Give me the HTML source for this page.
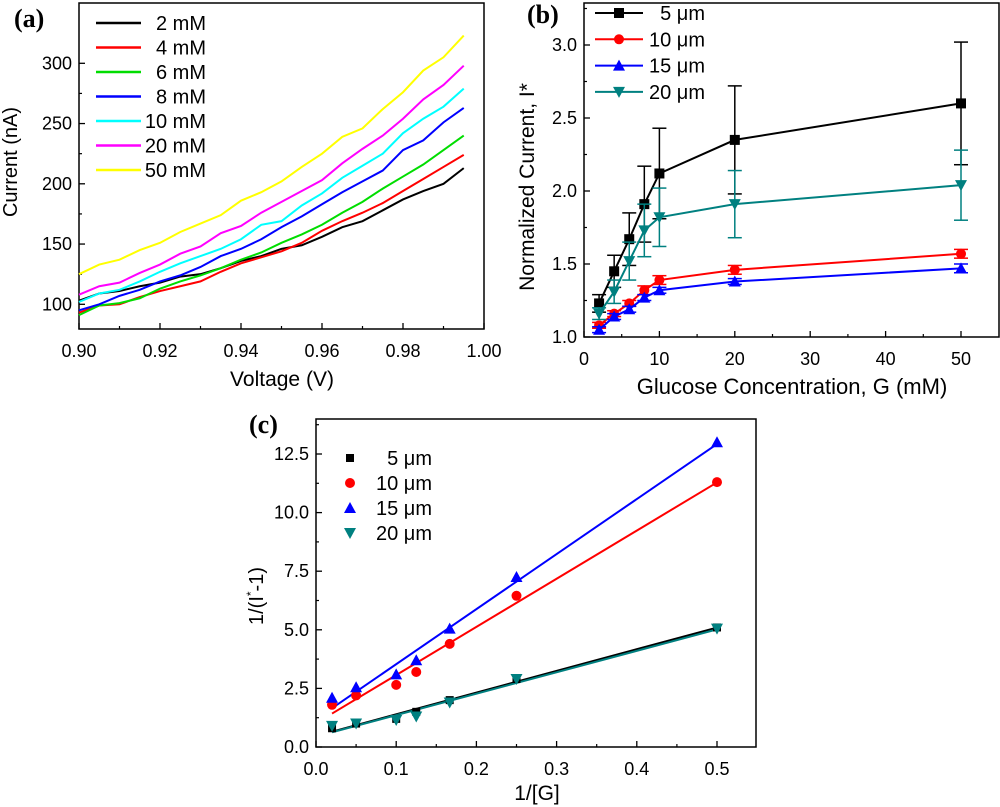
<!DOCTYPE html>
<html><head><meta charset="utf-8">
<style>
html,body{margin:0;padding:0;background:#fff;}
svg{display:block;font-family:"Liberation Sans",Arial,sans-serif;}
.lbl{font-family:"Liberation Serif",serif;font-weight:bold;font-size:26px;}
</style></head>
<body>
<svg id="fig" width="1000" height="807" viewBox="0 0 1000 807" xmlns="http://www.w3.org/2000/svg"></svg>
<script>
// ---- Panel (a) data ----
const aVoltage = [0.900,0.905,0.910,0.915,0.920,0.925,0.930,0.935,0.940,0.945,0.950,0.955,0.960,0.965,0.970,0.975,0.980,0.985,0.990,0.995];
const aNames = ["2 mM","4 mM","6 mM","8 mM","10 mM","20 mM","50 mM"];
const aColors = ["#000000","#ff0000","#00dd00","#0000ff","#00ffff","#ff00ff","#ffff00"];
const a2 = [103,109,111,115,118,123,125,130,136,140,146,149,156,164,169,178,187,194,200,213];
const a4 = [93,99,100,106,111,115,119,127,134,139,144,151,161,169,176,184,194,204,214,224];
const a6 = [91,99,101,105,113,119,124,130,137,143,151,158,166,176,185,196,206,216,228,240];
const a8 = [95,100,107,112,119,124,131,140,146,154,164,173,183,193,202,211,228,236,251,263];
const a10 = [102,109,112,119,127,134,140,146,154,166,169,182,192,205,215,225,242,254,264,279];
const a20 = [108,115,118,126,133,142,148,159,165,176,185,194,203,217,229,240,254,270,282,298];
const a50 = [125,133,137,145,151,160,167,174,186,193,202,214,225,239,246,262,276,294,305,323];
const aXTicks = ["0.90","0.92","0.94","0.96","0.98","1.00"];
const aYTicks = ["100","150","200","250","300"];

// ---- Panel (b) data ----
const bConc = [2,4,6,8,10,20,50];
const bNames = ["5 \u03bcm","10 \u03bcm","15 \u03bcm","20 \u03bcm"];
const bColors = ["#000000","#ff0000","#0000ff","#008080"];
const b5 = [1.23,1.45,1.67,1.91,2.12,2.35,2.60];
const b10 = [1.08,1.16,1.23,1.32,1.39,1.46,1.57];
const b15 = [1.05,1.14,1.19,1.27,1.32,1.38,1.47];
const b20 = [1.16,1.31,1.52,1.73,1.82,1.91,2.04];
const b5err = [0.06,0.11,0.18,0.26,0.31,0.37,0.42];
const b10err = [0.02,0.02,0.02,0.03,0.03,0.03,0.03];
const b15err = [0.02,0.02,0.02,0.02,0.02,0.02,0.03];
const b20err = [0.04,0.08,0.13,0.18,0.20,0.23,0.24];
const bXTicks = ["0","10","20","30","40","50"];
const bYTicks = ["1.0","1.5","2.0","2.5","3.0"];

// ---- Panel (c) data ----
const cInvG = [0.02,0.05,0.1,0.125,0.1667,0.25,0.5];
const c5 = [0.8,1.0,1.2,1.5,2.0,2.9,5.1];
const c10 = [1.8,2.2,2.65,3.2,4.4,6.45,11.3];
const c15 = [2.1,2.55,3.1,3.7,5.05,7.25,13.0];
const c20 = [0.9,1.0,1.15,1.3,1.9,2.9,5.05];
const cXTicks = ["0.0","0.1","0.2","0.3","0.4","0.5"];
const cYTicks = ["0.0","2.5","5.0","7.5","10.0","12.5"];

const NS="http://www.w3.org/2000/svg";
const svg=document.getElementById('fig');
function mk(tag,attrs,parent){const e=document.createElementNS(NS,tag);for(const k in attrs)e.setAttribute(k,attrs[k]);(parent||svg).appendChild(e);return e;}
function txt(s,attrs,parent){const e=mk('text',attrs,parent);e.textContent=s;return e;}
function lin(d0,d1,r0,r1){return v=>r0+(v-d0)*(r1-r0)/(d1-d0);}

function frame(g,x0,y0,x1,y1,xs,ys,xt,yt,xminor,yminor,fs){
  const box=mk('rect',{x:x0,y:y0,width:x1-x0,height:y1-y0,fill:'none',stroke:'#000','stroke-width':1.5},g);
  
  xt.forEach(t=>{const px=xs(parseFloat(t));
    mk('line',{x1:px,x2:px,y1:y1,y2:y1-6,stroke:'#000','stroke-width':1.3},g);
    const e=txt(t,{x:px,y:y1+28,'font-size':fs,'text-anchor':'middle'},g);
    });
  xminor.forEach(v=>{const px=xs(v);mk('line',{x1:px,x2:px,y1:y1,y2:y1-3,stroke:'#000','stroke-width':1.2},g);});
  yt.forEach(t=>{const py=ys(parseFloat(t));
    mk('line',{x1:x0,x2:x0+6,y1:py,y2:py,stroke:'#000','stroke-width':1.3},g);
    const e=txt(t,{x:x0-7,y:py+6,'font-size':fs,'text-anchor':'end'},g);
    });
  yminor.forEach(v=>{const py=ys(v);mk('line',{x1:x0,x2:x0+3,y1:py,y2:py,stroke:'#000','stroke-width':1.2},g);});
}
function marker(g,type,x,y,c,s){
  let e;
  if(type==='sq')e=mk('rect',{x:x-s,y:y-s,width:2*s,height:2*s,fill:c},g);
  else if(type==='ci')e=mk('circle',{cx:x,cy:y,r:s,fill:c},g);
  else if(type==='up')e=mk('polygon',{points:`${x},${y-s*1.2} ${x-s*1.2},${y+s} ${x+s*1.2},${y+s}`,fill:c},g);
  else e=mk('polygon',{points:`${x},${y+s*1.2} ${x-s*1.2},${y-s} ${x+s*1.2},${y-s}`,fill:c},g);
  return e;
}

// ===== Panel A =====
(function(){
  const g=mk('g',{});
  const x0=79,x1=484,y0=3,y1=329;
  const xs=lin(0.9,1.0,x0,x1), ys=lin(100,300,304.3,63.3);
  const minX=[];for(let v=0.91;v<1;v+=0.02)minX.push(v);
  frame(g,x0,y0,x1,y1,xs,ys,aXTicks,aYTicks,minX,[125,175,225,275],18);
  const series=[a2,a4,a6,a8,a10,a20,a50];
  series.forEach((s,i)=>{
    const p=mk('polyline',{points:s.map((v,j)=>xs(aVoltage[j])+','+ys(v)).join(' '),fill:'none',stroke:aColors[i],'stroke-width':2},g);
    
    const ly=23+i*24.5;
    const l=mk('line',{x1:96,x2:141,y1:ly,y2:ly,stroke:aColors[i],'stroke-width':2.5},g);
    
    const t=txt(aNames[i],{x:206,y:ly+7,'font-size':20,'text-anchor':'end'},g);
    
  });
  const yt=txt('Current (nA)',{x:0,y:0,'font-size':20,'text-anchor':'middle',transform:'translate(17,162) rotate(-90)'},g);
  
  const xt=txt('Voltage (V)',{x:282,y:386,'font-size':21,'text-anchor':'middle'},g);
  
  const pl=txt('(a)',{x:14,y:27,'class':'lbl'},g);
  
})();

// ===== Panel B =====
(function(){
  const g=mk('g',{});
  const x0=584,x1=999,y0=3,y1=337;
  const xs=lin(0,50,584,961), ys=lin(1,3,337,45);
  frame(g,x0,y0,x1,y1,xs,ys,bXTicks,bYTicks,[5,15,25,35,45],[1.25,1.75,2.25,2.75,3.25],18);
  const series=[b5,b10,b15,b20], errs=[b5err,b10err,b15err,b20err], types=['sq','ci','up','dn'];
  series.forEach((s,i)=>{
    const c=bColors[i];
    s.forEach((v,j)=>{const px=xs(bConc[j]),e=errs[i][j];
      const lo=ys(v-e),hi=ys(v+e);
      mk('line',{x1:px,x2:px,y1:lo,y2:hi,stroke:c,'stroke-width':1.5},g);
      mk('line',{x1:px-7,x2:px+7,y1:lo,y2:lo,stroke:c,'stroke-width':1.5},g);
      mk('line',{x1:px-7,x2:px+7,y1:hi,y2:hi,stroke:c,'stroke-width':1.5},g);});
    const p=mk('polyline',{points:s.map((v,j)=>xs(bConc[j])+','+ys(v)).join(' '),fill:'none',stroke:c,'stroke-width':2},g);
    
    s.forEach((v,j)=>{const m=marker(g,types[i],xs(bConc[j]),ys(v),c,5);
      });
    const ly=13+i*26.3;
    mk('line',{x1:595,x2:643,y1:ly,y2:ly,stroke:c,'stroke-width':2},g);
    marker(g,types[i],619,ly,c,5);
    const t=txt(bNames[i],{x:705,y:ly+7,'font-size':20,'text-anchor':'end'},g);
    
  });
  const yt=txt('Normalized Current, I*',{x:0,y:0,'font-size':21,'text-anchor':'middle',transform:'translate(534,187) rotate(-90)'},g);
  
  const xt=txt('Glucose Concentration, G (mM)',{x:792,y:394,'font-size':22,'text-anchor':'middle'},g);
  
  const pl=txt('(b)',{x:527,y:23,'class':'lbl'},g);
  
})();

// ===== Panel C =====
(function(){
  const g=mk('g',{});
  const x0=316,x1=756,y0=419,y1=747;
  const xs=lin(0,0.5,316,717), ys=lin(0,12.5,747,454);
  frame(g,x0,y0,x1,y1,xs,ys,cXTicks,cYTicks,[0.05,0.15,0.25,0.35,0.45],[1.25,3.75,6.25,8.75,11.25,13.75],18);
  const series=[c5,c10,c15,c20], types=['sq','ci','up','dn'];
  const cols=["#000000","#ff0000","#0000ff","#008080"];
  series.forEach((s,i)=>{
    const n=s.length;let sx=0,sy=0,sxx=0,sxy=0;
    s.forEach((v,j)=>{const x=cInvG[j];sx+=x;sy+=v;sxx+=x*x;sxy+=x*v;});
    const m=(n*sxy-sx*sy)/(n*sxx-sx*sx), b=(sy-m*sx)/n;
    const xa=cInvG[0],xb=cInvG[n-1];
    const fl=mk('line',{x1:xs(xa),y1:ys(m*xa+b),x2:xs(xb),y2:ys(m*xb+b),stroke:cols[i],'stroke-width':2},g);
    
  });
  series.forEach((s,i)=>{
    s.forEach((v,j)=>{const mm=marker(g,types[i],xs(cInvG[j]),ys(v),cols[i],i===0?4:5);
      });
    const ly=458+i*25;
    marker(g,types[i],350,ly,cols[i],i===0?4:5);
    const t=txt(bNames[i],{x:432,y:ly+7,'font-size':20,'text-anchor':'end'},g);
    
  });
  const yt=mk('text',{'font-size':20,'text-anchor':'middle',transform:'translate(263,596) rotate(-90)'},g);
  
  yt.innerHTML='1/(I<tspan font-size="12" dy="-8">*</tspan><tspan dy="8">-1)</tspan>';
  const xt=txt('1/[G]',{x:537,y:800,'font-size':21,'text-anchor':'middle'},g);
  
  const pl=txt('(c)',{x:249,y:433,'class':'lbl'},g);
  
})();
</script>
</body></html>
